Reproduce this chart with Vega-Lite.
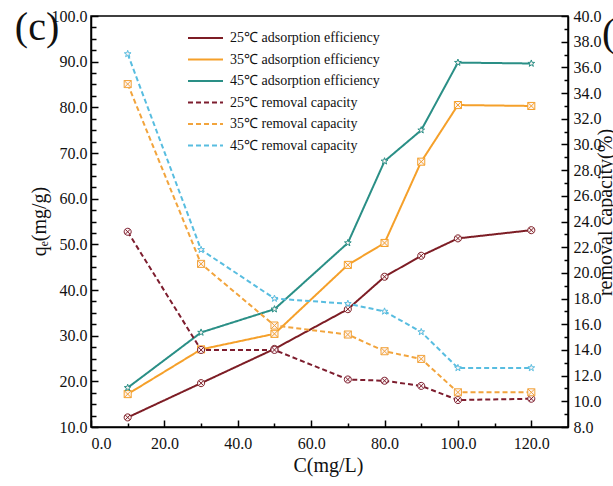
{
  "$schema": "https://vega.github.io/schema/vega-lite/v6.json",
  "width": 477,
  "height": 411,
  "autosize": {"type": "none"},
  "padding": {"left": 91, "top": 16, "right": 45, "bottom": 59},
  "background": "white",
  "config": {
    "font": "Liberation Serif, Times New Roman, serif",
    "view": {"stroke": "black", "strokeWidth": 1.5},
    "axis": {
      "grid": false,
      "labelOverlap": false,
      "domainColor": "black",
      "domainWidth": 1.5,
      "tickColor": "black",
      "tickWidth": 1.5,
      "labelFont": "Liberation Serif, Times New Roman, serif",
      "labelFontSize": 16,
      "labelColor": "#111",
      "titleFont": "Liberation Serif, Times New Roman, serif",
      "titleFontSize": 20,
      "titleFontWeight": "normal",
      "titleColor": "#111"
    }
  },
  "datasets": {
    "pts": [
      {"C": 10, "temp": "25℃", "series": "25℃ adsorption efficiency", "type": "ads", "value": 12.1},
      {"C": 30, "temp": "25℃", "series": "25℃ adsorption efficiency", "type": "ads", "value": 19.6},
      {"C": 50, "temp": "25℃", "series": "25℃ adsorption efficiency", "type": "ads", "value": 27.1},
      {"C": 70, "temp": "25℃", "series": "25℃ adsorption efficiency", "type": "ads", "value": 35.8},
      {"C": 80, "temp": "25℃", "series": "25℃ adsorption efficiency", "type": "ads", "value": 42.9},
      {"C": 90, "temp": "25℃", "series": "25℃ adsorption efficiency", "type": "ads", "value": 47.5},
      {"C": 100, "temp": "25℃", "series": "25℃ adsorption efficiency", "type": "ads", "value": 51.3},
      {"C": 120, "temp": "25℃", "series": "25℃ adsorption efficiency", "type": "ads", "value": 53.1},
      {"C": 10, "temp": "35℃", "series": "35℃ adsorption efficiency", "type": "ads", "value": 17.2},
      {"C": 30, "temp": "35℃", "series": "35℃ adsorption efficiency", "type": "ads", "value": 27.0},
      {"C": 50, "temp": "35℃", "series": "35℃ adsorption efficiency", "type": "ads", "value": 30.4},
      {"C": 70, "temp": "35℃", "series": "35℃ adsorption efficiency", "type": "ads", "value": 45.5},
      {"C": 80, "temp": "35℃", "series": "35℃ adsorption efficiency", "type": "ads", "value": 50.3},
      {"C": 90, "temp": "35℃", "series": "35℃ adsorption efficiency", "type": "ads", "value": 68.1},
      {"C": 100, "temp": "35℃", "series": "35℃ adsorption efficiency", "type": "ads", "value": 80.5},
      {"C": 120, "temp": "35℃", "series": "35℃ adsorption efficiency", "type": "ads", "value": 80.3},
      {"C": 10, "temp": "45℃", "series": "45℃ adsorption efficiency", "type": "ads", "value": 18.6},
      {"C": 30, "temp": "45℃", "series": "45℃ adsorption efficiency", "type": "ads", "value": 30.7},
      {"C": 50, "temp": "45℃", "series": "45℃ adsorption efficiency", "type": "ads", "value": 35.8},
      {"C": 70, "temp": "45℃", "series": "45℃ adsorption efficiency", "type": "ads", "value": 50.3},
      {"C": 80, "temp": "45℃", "series": "45℃ adsorption efficiency", "type": "ads", "value": 68.2},
      {"C": 90, "temp": "45℃", "series": "45℃ adsorption efficiency", "type": "ads", "value": 75.0},
      {"C": 100, "temp": "45℃", "series": "45℃ adsorption efficiency", "type": "ads", "value": 89.8},
      {"C": 120, "temp": "45℃", "series": "45℃ adsorption efficiency", "type": "ads", "value": 89.6},
      {"C": 10, "temp": "25℃", "series": "25℃ removal capacity", "type": "rem", "value": 23.2},
      {"C": 30, "temp": "25℃", "series": "25℃ removal capacity", "type": "rem", "value": 14.0},
      {"C": 50, "temp": "25℃", "series": "25℃ removal capacity", "type": "rem", "value": 14.0},
      {"C": 70, "temp": "25℃", "series": "25℃ removal capacity", "type": "rem", "value": 11.7},
      {"C": 80, "temp": "25℃", "series": "25℃ removal capacity", "type": "rem", "value": 11.6},
      {"C": 90, "temp": "25℃", "series": "25℃ removal capacity", "type": "rem", "value": 11.2},
      {"C": 100, "temp": "25℃", "series": "25℃ removal capacity", "type": "rem", "value": 10.1},
      {"C": 120, "temp": "25℃", "series": "25℃ removal capacity", "type": "rem", "value": 10.2},
      {"C": 10, "temp": "35℃", "series": "35℃  removal capacity", "type": "rem", "value": 34.7},
      {"C": 30, "temp": "35℃", "series": "35℃  removal capacity", "type": "rem", "value": 20.7},
      {"C": 50, "temp": "35℃", "series": "35℃  removal capacity", "type": "rem", "value": 15.9},
      {"C": 70, "temp": "35℃", "series": "35℃  removal capacity", "type": "rem", "value": 15.2},
      {"C": 80, "temp": "35℃", "series": "35℃  removal capacity", "type": "rem", "value": 13.9},
      {"C": 90, "temp": "35℃", "series": "35℃  removal capacity", "type": "rem", "value": 13.3},
      {"C": 100, "temp": "35℃", "series": "35℃  removal capacity", "type": "rem", "value": 10.7},
      {"C": 120, "temp": "35℃", "series": "35℃  removal capacity", "type": "rem", "value": 10.7},
      {"C": 10, "temp": "45℃", "series": "45℃  removal capacity", "type": "rem", "value": 37.05},
      {"C": 30, "temp": "45℃", "series": "45℃  removal capacity", "type": "rem", "value": 21.8},
      {"C": 50, "temp": "45℃", "series": "45℃  removal capacity", "type": "rem", "value": 18.0},
      {"C": 70, "temp": "45℃", "series": "45℃  removal capacity", "type": "rem", "value": 17.6},
      {"C": 80, "temp": "45℃", "series": "45℃  removal capacity", "type": "rem", "value": 17.0},
      {"C": 90, "temp": "45℃", "series": "45℃  removal capacity", "type": "rem", "value": 15.4},
      {"C": 100, "temp": "45℃", "series": "45℃  removal capacity", "type": "rem", "value": 12.6},
      {"C": 120, "temp": "45℃", "series": "45℃  removal capacity", "type": "rem", "value": 12.6}
    ]
  },
  "layer": [
    {
      "layer": [
        {
          "data": {"name": "pts"},
          "transform": [{"filter": "datum.type == 'ads'"}],
          "mark": {"type": "line", "strokeWidth": 2},
          "encoding": {
            "x": {
              "field": "C", "type": "quantitative",
              "scale": {"domain": [0, 130], "nice": false, "zero": false},
              "axis": {
                "title": "C(mg/L)",
                "labelOverlap": false,
                "tickCount": 200,
                "values": [0, 10, 20, 30, 40, 50, 60, 70, 80, 90, 100, 110, 120],
                "labelExpr": "datum.value % 20 == 0 ? datum.label : ''",
                "tickSize": {"condition": {"test": "datum.value % 20 == 0", "value": -7}, "value": -4},
                "labelPadding": 15,
                "titleX": 237, "titleY": 38, "titleBaseline": "middle", "titleAlign": "center"
              }
            },
            "y": {
              "field": "value", "type": "quantitative",
              "scale": {"domain": [10, 100], "nice": false, "zero": false},
              "axis": {
                "orient": "left",
                "title": "qₑ(mg/g)",
                "labelOverlap": false,
                "tickCount": 200,
                "values": [10, 12.5, 15, 17.5, 20, 22.5, 25, 27.5, 30, 32.5, 35, 37.5, 40, 42.5, 45, 47.5, 50, 52.5, 55, 57.5, 60, 62.5, 65, 67.5, 70, 72.5, 75, 77.5, 80, 82.5, 85, 87.5, 90, 92.5, 95, 97.5, 100],
                "labelExpr": "datum.value % 10 == 0 ? datum.label : ''",
                "tickSize": {"condition": {"test": "datum.value % 10 == 0", "value": -7}, "value": -5},
                "labelPadding": 11,
                "titleX": -52, "titleY": 205, "titleAngle": -90, "titleBaseline": "middle", "titleAlign": "center"
              }
            },
            "color": {
              "field": "series", "type": "nominal",
              "scale": {
                "domain": ["25℃ adsorption efficiency", "35℃ adsorption efficiency", "45℃ adsorption efficiency", "25℃ removal capacity", "35℃  removal capacity", "45℃  removal capacity"],
                "range": ["#7d1d25", "#f5a02a", "#2a8f86", "#7d1d2e", "#f2a43c", "#58bde0"]
              },
              "legend": {
                "title": null,
                "orient": "none",
                "legendX": 96,
                "legendY": 14,
                "symbolType": "stroke",
                "symbolSize": 1225,
                "symbolStrokeWidth": 2,
                "clipHeight": 16,
                "rowPadding": 5.5,
                "labelOffset": 6,
                "labelFont": "Liberation Serif, Times New Roman, serif",
                "labelFontSize": 14,
                "labelColor": "#111",
                "labelLimit": 300
              }
            },
            "strokeDash": {
              "field": "series", "type": "nominal",
              "scale": {
                "domain": ["25℃ adsorption efficiency", "35℃ adsorption efficiency", "45℃ adsorption efficiency", "25℃ removal capacity", "35℃  removal capacity", "45℃  removal capacity"],
                "range": [[1, 0], [1, 0], [1, 0], [5, 3], [5, 3], [5, 3]]
              }
            }
          }
        },
        {
          "data": {"name": "pts"},
          "transform": [{"filter": "datum.type == 'ads'"}],
          "mark": {"type": "point", "filled": false, "fill": "#fbf3f3", "strokeWidth": 1, "size": 50, "opacity": 1},
          "encoding": {
            "x": {"field": "C", "type": "quantitative"},
            "y": {"field": "value", "type": "quantitative"},
            "color": {"field": "series", "type": "nominal", "legend": null},
            "shape": {
              "field": "temp", "type": "nominal", "legend": null,
              "scale": {
                "domain": ["25℃", "35℃", "45℃"],
                "range": [
                  "M-1,0A1,1 0 1,1 1,0A1,1 0 1,1 -1,0ZM-0.7,-0.7L0.7,0.7M-0.7,0.7L0.7,-0.7",
                  "M-1,-1H1V1H-1ZM-1,-1L1,1M1,-1L-1,1",
                  "M0,-1L0.235,-0.324L0.951,-0.309L0.38,0.124L0.588,0.809L0,0.4L-0.588,0.809L-0.38,0.124L-0.951,-0.309L-0.235,-0.324Z"
                ]
              }
            }
          }
        },
        {
          "data": {"values": [{"t": "(c)"}]},
          "mark": {"type": "text", "font": "Liberation Serif, Times New Roman, serif", "fontSize": 40, "align": "center", "baseline": "middle", "color": "#111"},
          "encoding": {
            "x": {"datum": -14.7, "type": "quantitative"},
            "y": {"datum": 97.4, "type": "quantitative"},
            "text": {"field": "t"}
          }
        },
        {
          "data": {"values": [{"t": "(d)"}]},
          "mark": {"type": "text", "font": "Liberation Serif, Times New Roman, serif", "fontSize": 40, "align": "left", "baseline": "middle", "color": "#111"},
          "encoding": {
            "x": {"datum": 139.3, "type": "quantitative"},
            "y": {"datum": 96.0, "type": "quantitative"},
            "text": {"field": "t"}
          }
        }
      ]
    },
    {
      "layer": [
        {
          "data": {"name": "pts"},
          "transform": [{"filter": "datum.type == 'rem'"}],
          "mark": {"type": "line", "strokeWidth": 2},
          "encoding": {
            "x": {"field": "C", "type": "quantitative"},
            "y": {
              "field": "value", "type": "quantitative",
              "scale": {"domain": [8, 40], "nice": false, "zero": false},
              "axis": {
                "orient": "right",
                "title": "removal capacity(%)",
                "labelOverlap": false,
                "tickCount": 200,
                "values": [8, 9, 10, 11, 12, 13, 14, 15, 16, 17, 18, 19, 20, 21, 22, 23, 24, 25, 26, 27, 28, 29, 30, 31, 32, 33, 34, 35, 36, 37, 38, 39, 40],
                "labelExpr": "datum.value % 2 == 0 ? datum.label : ''",
                "tickSize": {"condition": {"test": "datum.value % 2 == 0", "value": -7}, "value": -4},
                "labelPadding": 12,
                "titleX": 37, "titleY": 196, "titleAngle": -90, "titleBaseline": "middle", "titleAlign": "center"
              }
            },
            "color": {"field": "series", "type": "nominal"},
            "strokeDash": {"field": "series", "type": "nominal"}
          }
        },
        {
          "data": {"name": "pts"},
          "transform": [{"filter": "datum.type == 'rem'"}],
          "mark": {"type": "point", "filled": false, "fill": "#fbf3f3", "strokeWidth": 1, "size": 50, "opacity": 1},
          "encoding": {
            "x": {"field": "C", "type": "quantitative"},
            "y": {"field": "value", "type": "quantitative"},
            "color": {"field": "series", "type": "nominal", "legend": null},
            "shape": {
              "field": "temp", "type": "nominal", "legend": null,
              "scale": {
                "domain": ["25℃", "35℃", "45℃"],
                "range": [
                  "M-1,0A1,1 0 1,1 1,0A1,1 0 1,1 -1,0ZM-0.7,-0.7L0.7,0.7M-0.7,0.7L0.7,-0.7",
                  "M-1,-1H1V1H-1ZM-1,-1L1,1M1,-1L-1,1",
                  "M0,-1L0.235,-0.324L0.951,-0.309L0.38,0.124L0.588,0.809L0,0.4L-0.588,0.809L-0.38,0.124L-0.951,-0.309L-0.235,-0.324Z"
                ]
              }
            }
          }
        }
      ]
    }
  ],
  "resolve": {"scale": {"y": "independent"}}
}
